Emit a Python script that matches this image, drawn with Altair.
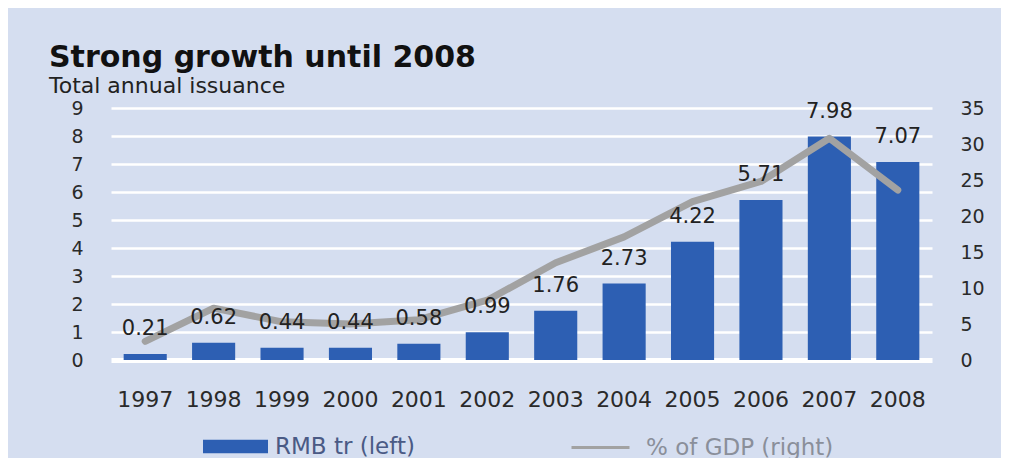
import altair as alt
import pandas as pd

years = ["1997", "1998", "1999", "2000", "2001", "2002", "2003", "2004", "2005", "2006", "2007", "2008"]
rmb_tr = [0.21, 0.62, 0.44, 0.44, 0.58, 0.99, 1.76, 2.73, 4.22, 5.71, 7.98, 7.07]
gdp_pct = [2.6, 7.2, 5.3, 5.0, 5.6, 8.3, 13.5, 17.1, 22.0, 24.8, 30.8, 23.6]
left_ticks = list(range(0, 10))
right_ticks = list(range(0, 36, 5))
title_text = "Strong growth until 2008"
subtitle_text = "Total annual issuance"
bar_series = "RMB tr (left)"
line_series = "% of GDP (right)"

BG = "#d5def0"
BAR = "#2d5fb3"
LINE = "#a2a2a2"
FONT = "DejaVu Sans"

df = pd.DataFrame({"year": years, "rmb": rmb_tr, "gdp": gdp_pct,
                   "s1": bar_series, "s2": line_series})

x_enc = alt.X("year:O", title=None,
              scale=alt.Scale(paddingInner=0.37, paddingOuter=0.185),
              axis=alt.Axis(labelAngle=0, domain=False, ticks=False, labelPadding=29,
                            labelFontSize=22, labelFont=FONT, labelColor="#2a2a2a"))

base = alt.Chart(df)

bars = base.mark_bar().encode(
    x=x_enc,
    y=alt.Y("rmb:Q", title=None,
            scale=alt.Scale(domain=[0, 9], nice=False),
            axis=alt.Axis(values=left_ticks, grid=True, gridColor="white",
                          gridWidth={"condition": {"test": "datum.value === 0", "value": 5}, "value": 2.5},
                          domain=False, ticks=False, labelPadding=28, labelFontSize=19,
                          labelFont=FONT, labelColor="#2a2a2a")),
    color=alt.Color("s1:N", scale=alt.Scale(domain=[bar_series], range=[BAR]),
                    legend=alt.Legend(orient="none", legendX=92, legendY=306, title=None,
                                      padding=0, symbolType="M-1,-0.21H1V0.21H-1Z",
                                      symbolSize=4225, symbolStrokeWidth=0, symbolOpacity=1,
                                      labelOffset=7, labelFontSize=23, labelFont=FONT,
                                      labelLimit=400, labelColor="#4a5a85")),
)

line = base.mark_line(strokeWidth=7, strokeCap="round", strokeJoin="round").encode(
    x=x_enc,
    y=alt.Y("gdp:Q", title=None,
            scale=alt.Scale(domain=[0, 35], nice=False),
            axis=alt.Axis(values=right_ticks, orient="right", grid=False, domain=False,
                          ticks=False, labelPadding=28, labelFontSize=19, labelFont=FONT,
                          labelColor="#2a2a2a")),
    stroke=alt.Stroke("s2:N", scale=alt.Scale(domain=[line_series], range=[LINE]),
                      legend=alt.Legend(orient="none", legendX=459, legendY=309, title=None,
                                        padding=0, symbolType="stroke", symbolSize=3364,
                                        symbolStrokeWidth=3, labelOffset=15, labelFontSize=23,
                                        labelFont=FONT, labelLimit=400, labelColor="#8a8f9a")),
)

labels = base.mark_text(baseline="middle", dy=-25, fontSize=21, font=FONT, color="#222222").encode(
    x=x_enc,
    y=alt.Y("rmb:Q", scale=alt.Scale(domain=[0, 9], nice=False), axis=None),
    text=alt.Text("rmb:Q", format=".2f"),
)

title = alt.Chart(pd.DataFrame({"t": [title_text]})).mark_text(
    align="left", baseline="alphabetic", fontSize=30, fontWeight="bold", font=FONT, color="#111111"
).encode(text="t:N", x=alt.value(-62), y=alt.value(-41))

subtitle = alt.Chart(pd.DataFrame({"t": [subtitle_text]})).mark_text(
    align="left", baseline="alphabetic", fontSize=22, font=FONT, color="#222222"
).encode(text="t:N", x=alt.value(-62), y=alt.value(-15))

chart = alt.layer(bars, line, labels, title, subtitle).resolve_scale(
    y="independent"
).properties(
    width=821, height=252,
    autosize=alt.AutoSizeParams(type="none"),
    padding={"left": 103, "top": 100, "right": 69, "bottom": 98},
    background=BG,
).configure_view(stroke=None)

chart.save("out.html", embed_options={"renderer": "svg", "actions": False})
